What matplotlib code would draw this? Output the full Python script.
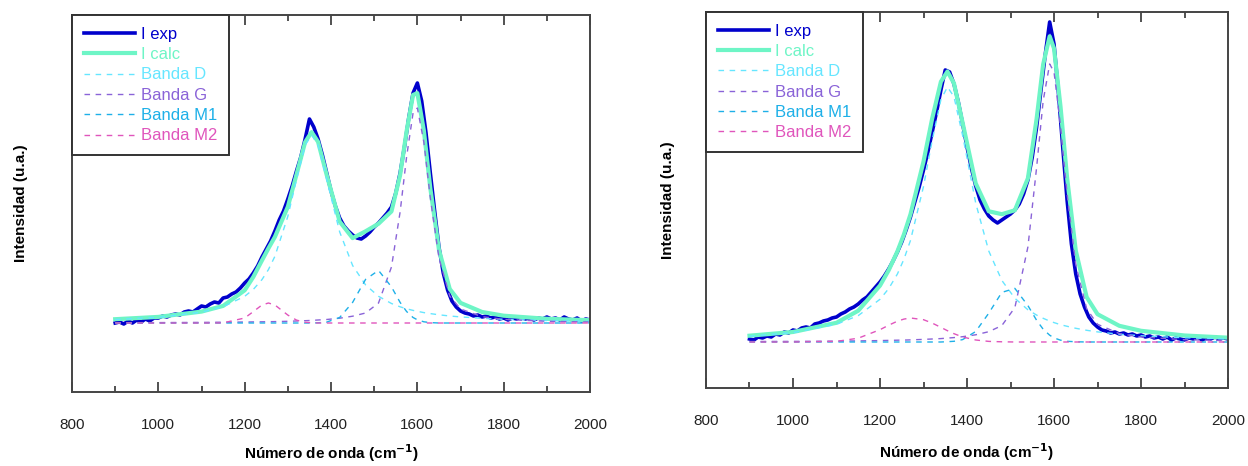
import matplotlib.pyplot as plt
import numpy as np

plt.rcParams['font.family'] = ['Liberation Sans', 'DejaVu Sans']

# Eje x: espectro experimental cada 10 cm-1, bandas en una malla propia
x_exp = np.arange(900, 2001, 10)
x_band = [900, 1000, 1100, 1150, 1200, 1220, 1240, 1255, 1270, 1300, 1320,
          1340, 1355, 1370, 1390, 1420, 1450, 1480, 1510, 1540, 1560, 1575,
          1590, 1600, 1615, 1630, 1650, 1675, 1700, 1750, 1800, 1900, 2000]

# ---- Muestra izquierda ----
exp_1 = [0.00, 0.01, -0.01, 0.02, 0.00, 0.03, 0.01, 0.04, 0.02, 0.05,
         0.05, 0.07, 0.06, 0.08, 0.09, 0.08, 0.11, 0.12, 0.11, 0.14,
         0.17, 0.16, 0.19, 0.21, 0.20, 0.25, 0.26, 0.29, 0.31, 0.35,
         0.40, 0.44, 0.50, 0.57, 0.66, 0.74, 0.82, 0.92, 1.03, 1.12,
         1.24, 1.37, 1.52, 1.66, 1.84, 2.04, 1.96, 1.84, 1.68, 1.50,
         1.32, 1.17, 1.05, 0.97, 0.92, 0.88, 0.85, 0.84, 0.87, 0.91,
         0.96, 1.00, 1.05, 1.10, 1.16, 1.30, 1.50, 1.76, 2.05, 2.30,
         2.40, 2.22, 1.90, 1.50, 1.12, 0.76, 0.50, 0.33, 0.22, 0.16,
         0.12, 0.10, 0.09, 0.07, 0.08, 0.06, 0.07, 0.05, 0.06, 0.04,
         0.05, 0.03, 0.05, 0.04, 0.06, 0.04, 0.05, 0.03, 0.05, 0.04,
         0.06, 0.04, 0.05, 0.03, 0.06, 0.04, 0.03, 0.05, 0.02, 0.04, 0.03]
calc_1 = [0.038, 0.061, 0.114, 0.171, 0.327, 0.461, 0.626, 0.747, 0.861, 1.163, 1.485,
          1.809, 1.909, 1.811, 1.48, 1.014, 0.849, 0.917, 0.993, 1.116, 1.478, 1.917,
          2.281, 2.299, 1.926, 1.348, 0.732, 0.34, 0.201, 0.11, 0.073, 0.042, 0.028]
banda_d_1 = [0.035, 0.057, 0.108, 0.162, 0.267, 0.336, 0.434, 0.534, 0.667, 1.067, 1.436,
             1.779, 1.88, 1.779, 1.436, 0.911, 0.575, 0.381, 0.267, 0.195, 0.162, 0.142,
             0.126, 0.117, 0.104, 0.094, 0.082, 0.070, 0.061, 0.047, 0.037, 0.025, 0.018]
banda_g_1 = [0.003, 0.004, 0.006, 0.008, 0.010, 0.011, 0.012, 0.013, 0.014, 0.017, 0.020,
             0.023, 0.026, 0.030, 0.035, 0.048, 0.068, 0.10, 0.20, 0.56, 1.11, 1.66,
             2.10, 2.15, 1.81, 1.25, 0.65, 0.27, 0.14, 0.063, 0.036, 0.017, 0.010]
banda_m1_1 = [0, 0, 0, 0, 0, 0, 0, 0, 0, 0, 0,
              0, 0, 0.002, 0.009, 0.055, 0.206, 0.436, 0.526, 0.361, 0.206, 0.115,
              0.055, 0.032, 0.012, 0.004, 0, 0, 0, 0, 0, 0, 0]
banda_m2_1 = [0, 0, 0, 0.001, 0.05, 0.114, 0.18, 0.20, 0.18, 0.079, 0.029,
              0.007, 0.003, 0, 0, 0, 0, 0, 0, 0, 0, 0,
              0, 0, 0, 0, 0, 0, 0, 0, 0, 0, 0]

# ---- Muestra derecha ----
exp_2 = [0.03, 0.02, 0.05, 0.04, 0.06, 0.05, 0.08, 0.07, 0.10, 0.09,
         0.12, 0.11, 0.14, 0.15, 0.14, 0.18, 0.19, 0.21, 0.22, 0.24,
         0.25, 0.28, 0.30, 0.33, 0.35, 0.38, 0.42, 0.45, 0.50, 0.55,
         0.60, 0.66, 0.73, 0.81, 0.90, 1.00, 1.12, 1.25, 1.40, 1.55,
         1.72, 1.90, 2.10, 2.30, 2.52, 2.72, 2.70, 2.58, 2.40, 2.18,
         1.95, 1.74, 1.56, 1.42, 1.33, 1.26, 1.22, 1.19, 1.22, 1.25,
         1.28, 1.32, 1.38, 1.48, 1.62, 1.85, 2.15, 2.52, 2.88, 3.20,
         2.98, 2.50, 1.95, 1.42, 0.98, 0.68, 0.48, 0.35, 0.25, 0.19,
         0.15, 0.12, 0.11, 0.09, 0.10, 0.08, 0.09, 0.07, 0.08, 0.06,
         0.07, 0.05, 0.06, 0.04, 0.05, 0.03, 0.05, 0.02, 0.04, 0.03,
         0.02, 0.04, 0.03, 0.05, 0.02, 0.04, 0.03, 0.05, 0.03, 0.04, 0.03]
calc_2 = [0.063, 0.100, 0.192, 0.313, 0.564, 0.718, 0.906, 1.076, 1.276, 1.804, 2.236,
          2.603, 2.705, 2.587, 2.19, 1.586, 1.307, 1.278, 1.317, 1.637, 2.232, 2.775,
          3.057, 2.935, 2.351, 1.644, 0.914, 0.449, 0.278, 0.162, 0.112, 0.065, 0.043]
banda_d_2 = [0.058, 0.094, 0.177, 0.264, 0.427, 0.534, 0.680, 0.828, 1.015, 1.555, 2.017,
             2.423, 2.55, 2.453, 2.063, 1.389, 0.910, 0.616, 0.437, 0.322, 0.269, 0.237,
             0.209, 0.194, 0.173, 0.157, 0.137, 0.117, 0.101, 0.078, 0.062, 0.042, 0.030]
banda_g_2 = [0.005, 0.006, 0.009, 0.011, 0.014, 0.016, 0.018, 0.019, 0.021, 0.026, 0.030,
             0.034, 0.039, 0.044, 0.053, 0.072, 0.103, 0.164, 0.344, 0.951, 1.746, 2.41,
             2.78, 2.70, 2.16, 1.48, 0.775, 0.332, 0.177, 0.084, 0.05, 0.023, 0.013]
banda_m1_2 = [0, 0, 0, 0, 0, 0, 0, 0, 0, 0, 0,
              0, 0.003, 0.007, 0.024, 0.105, 0.288, 0.496, 0.536, 0.364, 0.217, 0.128,
              0.068, 0.041, 0.018, 0.007, 0.002, 0, 0, 0, 0, 0, 0]
banda_m2_2 = [0, 0, 0.006, 0.038, 0.123, 0.168, 0.208, 0.229, 0.24, 0.223, 0.189,
              0.146, 0.113, 0.083, 0.05, 0.02, 0.006, 0.002, 0, 0, 0, 0,
              0, 0, 0, 0, 0, 0, 0, 0, 0, 0, 0]

etiquetas = ['I exp', 'I calc', 'Banda D', 'Banda G', 'Banda M1', 'Banda M2']
colores = ['#0000cc', '#6ef5c6', '#66e6ff', '#8a63d8', '#1eb0e8', '#e055bc']


def panel(ax, exp, calc, bandas, ylim, ylabelpad, xlabelpad):
    ax.plot(x_exp, exp, c=colores[0], lw=2.6, label=etiquetas[0])
    ax.plot(x_band, calc, c=colores[1], lw=3.0, label=etiquetas[1])
    for b, col, lab in zip(bandas, colores[2:], etiquetas[2:]):
        ax.plot(x_band, b, c=col, lw=1.0, ls=(0, (4, 4)), label=lab)

    ax.set_xlim(800, 2000)
    ax.set_ylim(*ylim)
    ax.set_xticks(np.arange(800, 2001, 200))
    ax.set_xticks(np.arange(900, 2000, 200), minor=True)
    ax.set_yticks([])
    ax.tick_params(axis='x', which='both', direction='in', top=True,
                   labelsize=11, pad=19, colors='#222222')
    ax.tick_params(axis='x', which='major', length=7, width=1.1)
    ax.tick_params(axis='x', which='minor', length=4, width=1.1)
    for s in ax.spines.values():
        s.set_color('#444444')
        s.set_linewidth(1.4)

    ax.set_xlabel('Número de onda (cm$^{\\mathbf{-1}}$)', fontsize=11,
                  fontweight='bold', labelpad=xlabelpad)
    ax.set_ylabel('Intensidad (u.a.)', fontsize=11, fontweight='bold',
                  labelpad=ylabelpad)

    leg = ax.legend(loc='upper left', fontsize=12, frameon=True, fancybox=False,
                    borderaxespad=0, handlelength=3.1, handletextpad=0.35,
                    labelspacing=0.32, borderpad=0.7)
    leg.get_frame().set_edgecolor('#333333')
    leg.get_frame().set_linewidth(1.4)
    leg.get_frame().set_alpha(1)
    for t, col in zip(leg.get_texts(), colores):
        t.set_color(col)


fig = plt.figure(figsize=(12.48, 4.66), dpi=100)
ax1 = fig.add_axes([0.0577, 0.1588, 0.4151, 0.809])
ax2 = fig.add_axes([0.5657, 0.1674, 0.4183, 0.8069])

panel(ax1, exp_1, calc_1, [banda_d_1, banda_g_1, banda_m1_1, banda_m2_1],
      (-0.69, 3.08), 32, 7)
panel(ax2, exp_2, calc_2, [banda_d_2, banda_g_2, banda_m1_2, banda_m2_2],
      (-0.46, 3.30), 22, 9)

fig.savefig('out.png', dpi=100)
